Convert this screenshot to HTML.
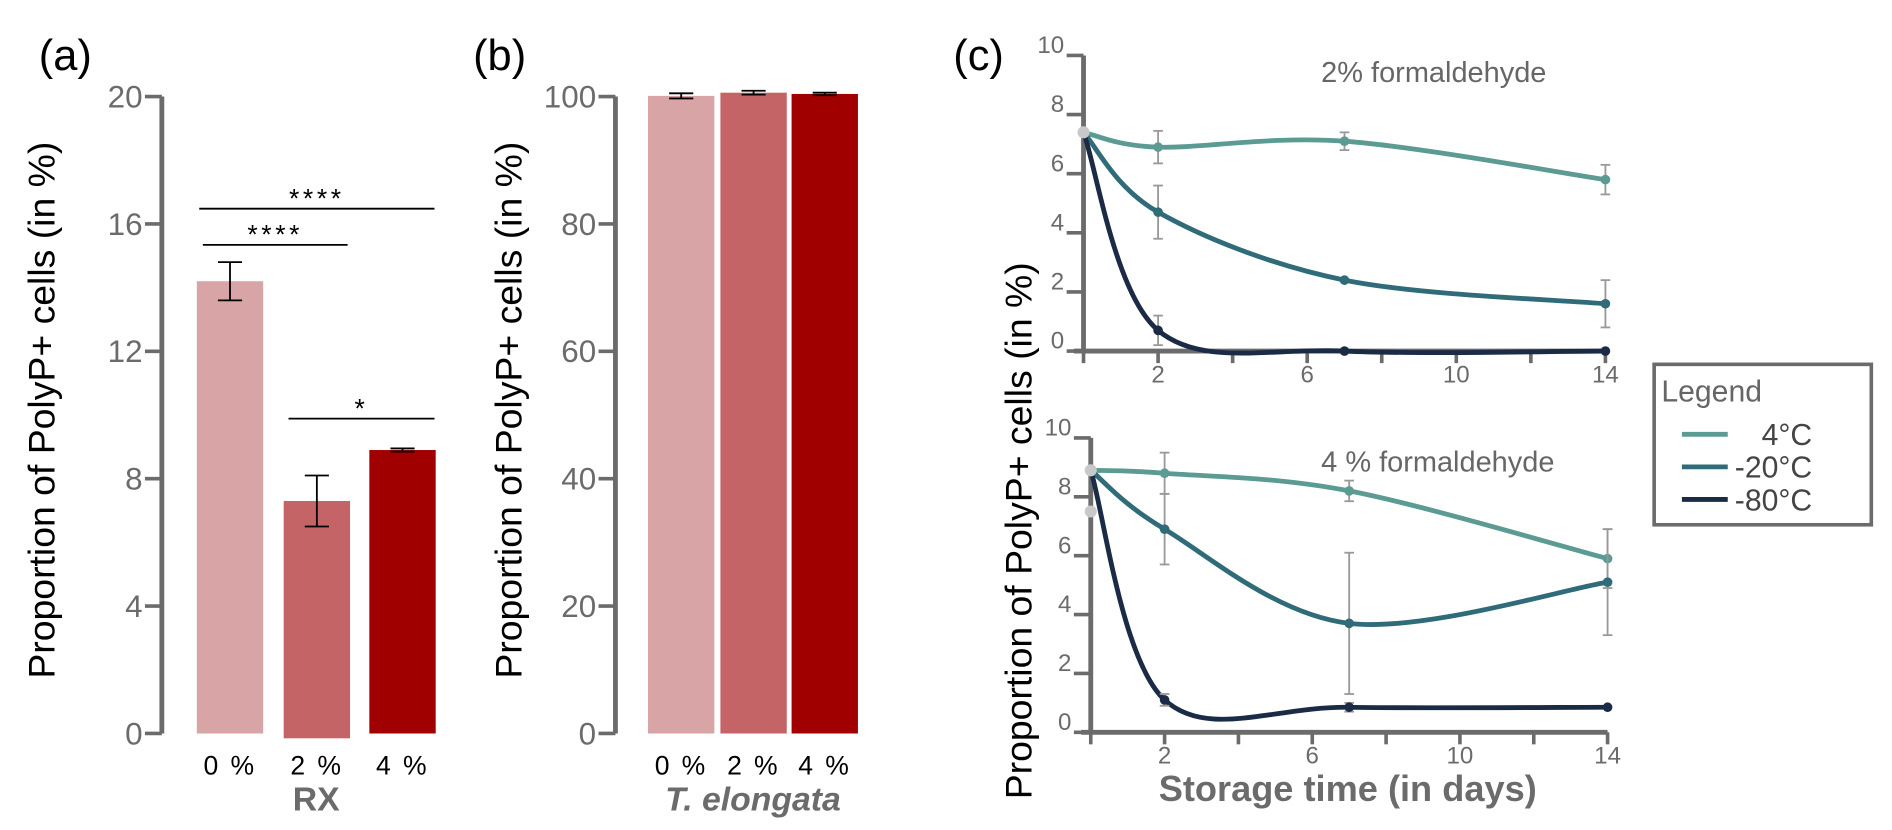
<!DOCTYPE html>
<html><head><meta charset="utf-8"><style>
body{margin:0;background:#fff}
svg{display:block;font-family:"Liberation Sans",sans-serif}
</style></head><body>
<svg id="s" width="1892" height="830" viewBox="0 0 1568 688"></svg>
<script>
const barCatsA=["0 %","2 %","4 %"];
const barValsA=[14.2,7.3,8.9];
const barErrA=[0.6,0.8,0.05];
const barCatsB=["0 %","2 %","4 %"];
const barValsB=[100.1,100.6,100.4];
const barErrB=[0.4,0.3,0.2];
const barColors=["#d8a4a5","#c46466","#a00000"];
const ticksA=[0,4,8,12,16,20];
const ticksB=[0,20,40,60,80,100];
const days=[0,2,7,14];
const top4=[7.4,6.9,7.1,5.8], top4e=[0,0.55,0.3,0.5];
const top20=[7.4,4.7,2.4,1.6], top20e=[0,0.9,0,0.8];
const top80=[7.4,0.7,0,0], top80e=[0,0.5,0,0];
const bot4=[8.9,8.8,8.2,5.9], bot4e=[0,0.7,0.35,1.0];
const bot20=[8.9,6.9,3.7,5.1], bot20e=[0,1.2,2.4,1.8];
const bot80=[8.9,1.1,0.85,0.85], bot80e=[0,0.2,0.15,0];
const ticksC=[0,2,4,6,8,10];
const xticksC=[2,6,10,14];
const seriesNames=["4°C","-20°C","-80°C"];
const seriesColors=["#5b9b93","#2f6b78","#1b2b45"];

const S=document.getElementById('s');
const NS="http://www.w3.org/2000/svg";
function el(t,a,txt){const e=document.createElementNS(NS,t);for(const k in a)e.setAttribute(k,a[k]);if(txt!==undefined)e.textContent=txt;S.appendChild(e);return e;}

[["(a)",32],["(b)",392],["(c)",790]].forEach(p=>{
 const e=el('text',{x:p[1],y:58,'font-size':36,fill:'#000'},p[0]);
 
 
});

function barPanel(axX,cats,vals,errs,ticks,max,barX,title,italic,ylabX){
 const y=v=>608-v/max*528;
 const ax=el('line',{x1:axX,y1:y(max),x2:axX,y2:y(0),stroke:'#6b6b6b','stroke-width':4});
 
 
 ticks.forEach(t=>{
  el('line',{x1:axX-14,y1:y(t),x2:axX,y2:y(t),stroke:'#6b6b6b','stroke-width':3});
  const tl=el('text',{x:axX-16,y:y(t)+9,'font-size':26,fill:'#6b6b6b','text-anchor':'end'},t);
  
  
 });
 cats.forEach((c,i)=>{
  const bx=barX[i];
  const r=el('rect',{x:bx,y:y(vals[i]),width:55,height:y(0)-y(vals[i])+(i==1&&max<50?4:0),fill:barColors[i]});
  
  
  const cx=bx+27.5,hi=y(vals[i]+errs[i]),lo=y(vals[i]-errs[i]);
  el('line',{x1:cx,y1:hi,x2:cx,y2:lo,stroke:'#000','stroke-width':1.5});
  el('line',{x1:cx-10,y1:hi,x2:cx+10,y2:hi,stroke:'#000','stroke-width':1.5});
  el('line',{x1:cx-10,y1:lo,x2:cx+10,y2:lo,stroke:'#000','stroke-width':1.5});
  const xl=el('text',{x:cx,y:642,'font-size':22,fill:'#000','text-anchor':'middle','letter-spacing':2},c);
  
  
 });
 const xt=el('text',{x:(barX[0]+barX[2]+55)/2,y:672,'font-size':28,'font-weight':'bold',fill:'#6b6b6b','text-anchor':'middle','font-style':italic?'italic':'normal'},title);
 
 
 const yt=el('text',{x:0,y:0,'font-size':31,fill:'#000','text-anchor':'middle',transform:`translate(${ylabX},340) rotate(-90)`},'Proportion of PolyP+ cells (in %)');
 
 
 return y;
}
barPanel(134,barCatsA,barValsA,barErrA,ticksA,20,[163,235,306],'RX',false,45);
barPanel(510,barCatsB,barValsB,barErrB,ticksB,100,[537,597,656],'T. elongata',true,432);
[[165,360,173,'****'],[168,288,203,'****'],[239,360,347,'*']].forEach(s=>{
 const l=el('line',{x1:s[0],y1:s[2],x2:s[1],y2:s[2],stroke:'#000','stroke-width':1.5});
 
 
 el('text',{x:(s[0]+s[1])/2,y:s[2]-1,'font-size':22,fill:'#000','text-anchor':'middle','letter-spacing':3},s[3]);
});

function path(pts){
 let d=`M${pts[0][0]},${pts[0][1]}`;
 for(let i=0;i<pts.length-1;i++){
  const p0=pts[i-1]||pts[i],p1=pts[i],p2=pts[i+1],p3=pts[i+2]||p2;
  const c1=[p1[0]+(p2[0]-p0[0])/6,p1[1]+(p2[1]-p0[1])/6];
  const c2=[p2[0]-(p3[0]-p1[0])/6,p2[1]-(p3[1]-p1[1])/6];
  d+=` C${c1[0]},${c1[1]} ${c2[0]},${c2[1]} ${p2[0]},${p2[1]}`;
 }
 return d;
}
function linePanel(axX,dx,y0,y10,series,errs,label,labY,name){
 const x=d=>axX+d*dx;
 const y=v=>y0-(y0-y10)*v/10;
 const ax=el('line',{x1:axX,y1:y10,x2:axX,y2:y0,stroke:'#6b6b6b','stroke-width':4});
 
 
 el('line',{x1:axX-8,y1:y0,x2:x(14),y2:y0,stroke:'#6b6b6b','stroke-width':4});
 ticksC.forEach(t=>{
  el('line',{x1:axX-14,y1:y(t),x2:axX,y2:y(t),stroke:'#6b6b6b','stroke-width':3});
  el('text',{x:axX-16,y:y(t)-2,'font-size':20,fill:'#6b6b6b','text-anchor':'end'},t);
 });
 for(let d=0;d<=14;d+=2){el('line',{x1:x(d),y1:y0,x2:x(d),y2:y0+10,stroke:'#6b6b6b','stroke-width':3});}
 xticksC.forEach(t=>{el('text',{x:x(t),y:y0+26,'font-size':20,fill:'#6b6b6b','text-anchor':'middle'},t);});
 series.forEach((s,si)=>{
  const pts=days.map((d,i)=>[x(d),y(s[i])]);
  const p=el('path',{d:path(pts),fill:'none',stroke:seriesColors[si],'stroke-width':4});
  
  
  days.forEach((d,i)=>{
   if(errs[si][i]>0){const hi=y(s[i]+errs[si][i]),lo=y(s[i]-errs[si][i]);
    el('line',{x1:x(d),y1:hi,x2:x(d),y2:lo,stroke:'#999','stroke-width':1.5});
    el('line',{x1:x(d)-4,y1:hi,x2:x(d)+4,y2:hi,stroke:'#999','stroke-width':1.5});
    el('line',{x1:x(d)-4,y1:lo,x2:x(d)+4,y2:lo,stroke:'#999','stroke-width':1.5});}
   if(i>0){const c=el('circle',{cx:x(d),cy:y(s[i]),r:4,fill:seriesColors[si]});
    
    }
  });
 });
 el('circle',{cx:axX,cy:y(series[0][0]),r:5,fill:'#c8c8c8'});
 const t=el('text',{x:1095,y:labY,'font-size':24,fill:'#666'},label);
 
 
 return y;
}
linePanel(898,30.9,291,46,[top4,top20,top80],[top4e,top20e,top80e],'2% formaldehyde',68,'top-chart');
const yb=linePanel(904,30.6,607,363,[bot4,bot20,bot80],[bot4e,bot20e,bot80e],'4 % formaldehyde',391,'bottom-chart');
el('circle',{cx:904,cy:yb(7.5),r:5,fill:'#c8c8c8'});
const ct=el('text',{x:0,y:0,'font-size':31,fill:'#000','text-anchor':'middle',transform:'translate(855,440) rotate(-90)'},'Proportion of PolyP+ cells (in %)');


const xt=el('text',{x:1117,y:664,'font-size':30,'font-weight':'bold',fill:'#6b6b6b','text-anchor':'middle'},'Storage time (in days)');


const lb=el('rect',{x:1371,y:302,width:180,height:133,fill:'#fff',stroke:'#6b6b6b','stroke-width':3});


el('text',{x:1377,y:333,'font-size':25,fill:'#666'},'Legend');
seriesNames.forEach((n,i)=>{
 const yy=360+i*27;
 const l=el('line',{x1:1394,y1:yy,x2:1432,y2:yy,stroke:seriesColors[i],'stroke-width':4});
 
 
 el('text',{x:1502,y:yy+9,'font-size':25,fill:'#444','text-anchor':'end'},n);
});
</script>
</body></html>
